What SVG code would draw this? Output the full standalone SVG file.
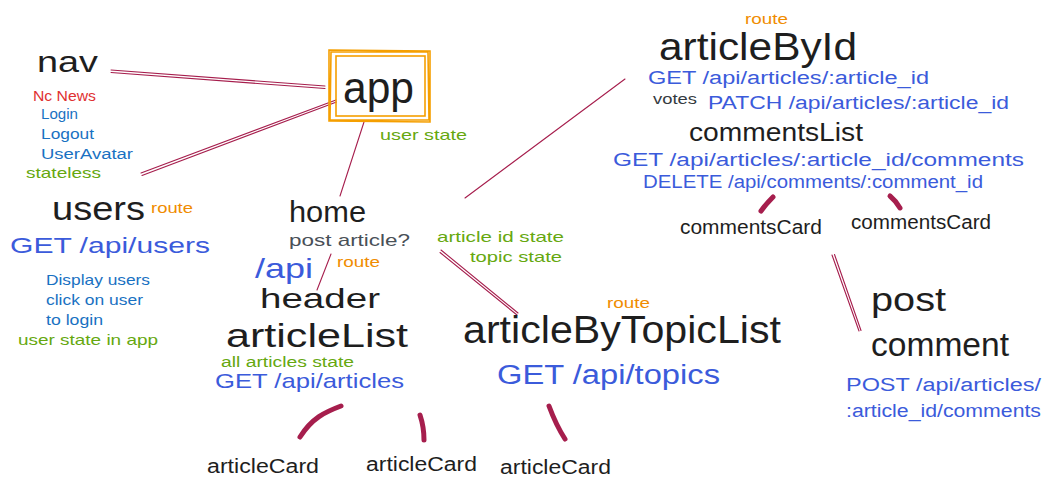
<svg xmlns="http://www.w3.org/2000/svg" width="1052" height="493" viewBox="0 0 1052 493">
<style>
text{font-family:"Liberation Sans","DejaVu Sans",sans-serif;}
.k{fill:#1e1e1e;}
.api{fill:#3b5bdb;}
.lst{fill:#1971c2;}
.grn{fill:#66a80f;}
.org{fill:#f08c00;}
.gry{fill:#495057;}
.red{fill:#e03131;}
.conn{fill:none;stroke:#a61e4d;stroke-width:1.1;stroke-linecap:round;}
.brush{fill:none;stroke:#a61e4d;stroke-width:5;stroke-linecap:round;}
.box{fill:none;stroke:#f59f00;stroke-width:1.6;}
</style>
<rect width="1052" height="493" fill="#ffffff"/>
<g id="connectors">
<path class="conn" d="M111,70 L325,86 M111,72.5 L325,88.5"/>
<path class="conn" d="M141,173 L336,100 M142,175.5 L336.5,102"/>
<path class="conn" d="M364,122 L340,196"/>
<path class="conn" d="M625,79 L465,198"/>
<path class="conn" d="M441,250 L518,313 M440,252.5 L517,315"/>
<path class="conn" d="M331,254 L317,290"/>
<path class="conn" d="M832,255 L859,331 M834.5,254.5 L861,330.5"/>
<path class="brush" d="M773,197 Q766,204 761,211"/>
<path class="brush" d="M890,196 Q896,201 900,208"/>
<path class="brush" d="M341,406 C325,412 312,418 300,437"/>
<path class="brush" d="M420,415 Q424,427 424,440"/>
<path class="brush" d="M549,406 Q556,425 565,439"/>
</g>
<g id="nav">
<text class="k" x="37" y="72" font-size="30" textLength="61" lengthAdjust="spacingAndGlyphs">nav</text>
<text class="red" x="33" y="101" font-size="14" textLength="63" lengthAdjust="spacingAndGlyphs">Nc News</text>
<text class="lst" x="41" y="119" font-size="14" textLength="37" lengthAdjust="spacingAndGlyphs">Login</text>
<text class="lst" x="41" y="139" font-size="14" textLength="53" lengthAdjust="spacingAndGlyphs">Logout</text>
<text class="lst" x="41" y="159" font-size="14" textLength="92" lengthAdjust="spacingAndGlyphs">UserAvatar</text>
<text class="grn" x="26" y="178" font-size="15" textLength="75" lengthAdjust="spacingAndGlyphs">stateless</text>
</g>
<g id="app">
<path class="box" d="M329,50 L430,51 L430,122 L329,121 Z M331,52 L428,52 L429,120 L330,120 Z"/>
<rect class="box" x="336" y="56" width="89" height="60"/>
<text class="k" x="343" y="103" font-size="44" textLength="71" lengthAdjust="spacingAndGlyphs">app</text>
<text class="grn" x="380" y="140" font-size="15" textLength="87" lengthAdjust="spacingAndGlyphs">user state</text>
</g>
<g id="users">
<text class="k" x="52" y="220" font-size="34" textLength="93" lengthAdjust="spacingAndGlyphs">users</text>
<text class="org" x="151" y="213" font-size="15" textLength="42" lengthAdjust="spacingAndGlyphs">route</text>
<text class="api" x="10" y="253" font-size="22" textLength="200" lengthAdjust="spacingAndGlyphs">GET /api/users</text>
<text class="lst" x="46" y="285" font-size="15" textLength="104" lengthAdjust="spacingAndGlyphs">Display users</text>
<text class="lst" x="46" y="305" font-size="15" textLength="97" lengthAdjust="spacingAndGlyphs">click on user</text>
<text class="lst" x="46" y="325" font-size="15" textLength="57" lengthAdjust="spacingAndGlyphs">to login</text>
<text class="grn" x="18" y="345" font-size="15" textLength="140" lengthAdjust="spacingAndGlyphs">user state in app</text>
</g>
<g id="home">
<text class="k" x="289" y="222" font-size="30" textLength="77" lengthAdjust="spacingAndGlyphs">home</text>
<text class="gry" x="289" y="246" font-size="17" textLength="121" lengthAdjust="spacingAndGlyphs">post article?</text>
<text class="api" x="255" y="278" font-size="28" textLength="58" lengthAdjust="spacingAndGlyphs">/api</text>
<text class="org" x="337" y="267" font-size="15" textLength="43" lengthAdjust="spacingAndGlyphs">route</text>
</g>
<g id="header">
<text class="k" x="260" y="308" font-size="28" textLength="120" lengthAdjust="spacingAndGlyphs">header</text>
</g>
<g id="articleList">
<text class="k" x="226" y="347" font-size="34" textLength="182" lengthAdjust="spacingAndGlyphs">articleList</text>
<text class="grn" x="221" y="367" font-size="14" textLength="133" lengthAdjust="spacingAndGlyphs">all articles state</text>
<text class="api" x="215" y="388" font-size="21" textLength="189" lengthAdjust="spacingAndGlyphs">GET /api/articles</text>
</g>
<g id="stateLabels">
<text class="grn" x="437" y="242" font-size="15" textLength="127" lengthAdjust="spacingAndGlyphs">article id state</text>
<text class="grn" x="470" y="262" font-size="15" textLength="92" lengthAdjust="spacingAndGlyphs">topic state</text>
</g>
<g id="articleByTopicList">
<text class="org" x="607" y="308" font-size="15" textLength="43" lengthAdjust="spacingAndGlyphs">route</text>
<text class="k" x="463" y="343" font-size="38" textLength="318" lengthAdjust="spacingAndGlyphs">articleByTopicList</text>
<text class="api" x="497" y="384" font-size="27" textLength="223" lengthAdjust="spacingAndGlyphs">GET /api/topics</text>
</g>
<g id="articleCard1">
<text class="k" x="207" y="473" font-size="20" textLength="112" lengthAdjust="spacingAndGlyphs">articleCard</text>
</g>
<g id="articleCard2">
<text class="k" x="366" y="471" font-size="20" textLength="111" lengthAdjust="spacingAndGlyphs">articleCard</text>
</g>
<g id="articleCard3">
<text class="k" x="500" y="474" font-size="20" textLength="111" lengthAdjust="spacingAndGlyphs">articleCard</text>
</g>
<g id="articleById">
<text class="org" x="745" y="24" font-size="15" textLength="43" lengthAdjust="spacingAndGlyphs">route</text>
<text class="k" x="659" y="60" font-size="38" textLength="198" lengthAdjust="spacingAndGlyphs">articleById</text>
<text class="api" x="648" y="84" font-size="18" textLength="281" lengthAdjust="spacingAndGlyphs">GET /api/articles/:article_id</text>
<text x="653" y="104" font-size="15" fill="#343a40" textLength="44" lengthAdjust="spacingAndGlyphs">votes</text>
<text class="api" x="708" y="109" font-size="18" textLength="301" lengthAdjust="spacingAndGlyphs">PATCH /api/articles/:article_id</text>
</g>
<g id="commentsList">
<text class="k" x="689" y="141" font-size="26" textLength="174" lengthAdjust="spacingAndGlyphs">commentsList</text>
<text class="api" x="613" y="166" font-size="18" textLength="411" lengthAdjust="spacingAndGlyphs">GET /api/articles/:article_id/comments</text>
<text class="api" x="643" y="188" font-size="18" textLength="340" lengthAdjust="spacingAndGlyphs">DELETE /api/comments/:comment_id</text>
</g>
<g id="commentsCard1">
<text class="k" x="680" y="234" font-size="20" textLength="142" lengthAdjust="spacingAndGlyphs">commentsCard</text>
</g>
<g id="commentsCard2">
<text class="k" x="851" y="229" font-size="20" textLength="140" lengthAdjust="spacingAndGlyphs">commentsCard</text>
</g>
<g id="postComment">
<text class="k" x="871" y="311" font-size="34" textLength="75" lengthAdjust="spacingAndGlyphs">post</text>
<text class="k" x="871" y="356" font-size="34" textLength="138" lengthAdjust="spacingAndGlyphs">comment</text>
<text class="api" x="846" y="391" font-size="18" textLength="195" lengthAdjust="spacingAndGlyphs">POST /api/articles/</text>
<text class="api" x="846" y="417" font-size="18" textLength="195" lengthAdjust="spacingAndGlyphs">:article_id/comments</text>
</g>
</svg>
